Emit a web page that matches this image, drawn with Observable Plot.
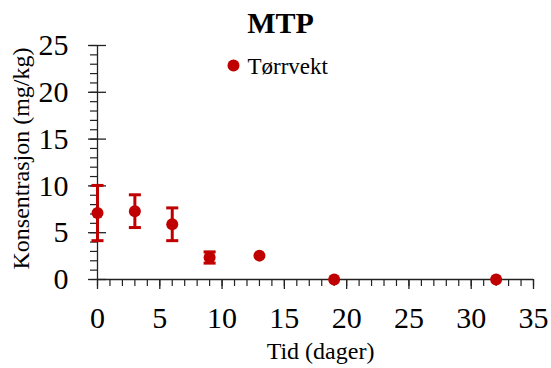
<!DOCTYPE html>
<html>
<head>
<meta charset="utf-8">
<script src="https://cdn.jsdelivr.net/npm/d3@7"></script>
<script src="https://cdn.jsdelivr.net/npm/@observablehq/plot@0.6"></script>
<style>
  html, body { margin: 0; padding: 0; background: #fff; }
  #chart { width: 551px; height: 368px; }
</style>
</head>
<body>
<div id="chart"></div>
<script>
const title = "MTP";
const seriesName = "Tørrvekt";
const xTitle = "Tid (dager)";
const yTitle = "Konsentrasjon (mg/kg)";
const days = [0, 3, 6, 9, 13, 19, 32];
const konsentrasjon = [7.1, 7.3, 5.9, 2.35, 2.55, 0, 0];
const stdavvik = [2.95, 1.75, 1.75, 0.6, 0, 0, 0];
const xMajor = [0, 5, 10, 15, 20, 25, 30, 35];
const xMinor = d3.range(0, 36, 1);
const yMajor = [0, 5, 10, 15, 20, 25];
const yMinor = d3.range(0, 26, 1);

const red = "#C00000";
const axisColor = "#222";
const font = "'Liberation Serif', 'Times New Roman', serif";

const data = days.map((d, i) => ({day: d, value: konsentrasjon[i], sd: stdavvik[i]}));
const withErr = data.filter(d => d.sd > 0);

// horizontal line symbol for error-bar caps
const capSymbol = {
  draw(context, size) {
    const w = Math.sqrt(size) / 2;
    context.moveTo(-w, 0);
    context.lineTo(w, 0);
  }
};

const chart = Plot.plot({
  width: 551,
  height: 368,
  marginLeft: 97,
  marginRight: 18,
  marginTop: 45,
  marginBottom: 89,
  style: {fontFamily: font, color: axisColor, background: "#fff"},
  x: {domain: [0, 35]},
  y: {domain: [0, 25]},
  marks: [
    // axis lines
    Plot.ruleY([0], {stroke: axisColor, strokeWidth: 1.3}),
    Plot.ruleX([0], {stroke: axisColor, strokeWidth: 1.3}),
    // y ticks
    Plot.axisY({ticks: yMinor, tickSize: 7, tickFormat: () => "", label: null, strokeWidth: 1.2}),
    Plot.axisY({ticks: yMajor, tickSize: 9, tickFormat: () => "", label: null, strokeWidth: 1.3}),
    Plot.axisY({ticks: yMajor, tickSize: 9, dx: 9, tickFormat: () => "", label: null, strokeWidth: 1.3}),
    Plot.axisY({ticks: yMajor, tickSize: 0, tickPadding: 29, label: null, fontSize: 30, fill: "#000"}),
    // x ticks
    Plot.axisX({ticks: xMinor, tickSize: 7, tickFormat: () => "", label: null, strokeWidth: 1.2}),
    Plot.axisX({ticks: xMajor, tickSize: 10, tickFormat: () => "", label: null, strokeWidth: 1.3}),
    Plot.axisX({ticks: xMajor, tickSize: 0, tickPadding: 27, label: null, fontSize: 30, fill: "#000"}),
    // error bars
    Plot.ruleX(withErr, {x: "day", y1: d => d.value - d.sd, y2: d => d.value + d.sd, stroke: red, strokeWidth: 3}),
    Plot.dot(withErr, {x: "day", y: d => d.value + d.sd, symbol: capSymbol, r: 6.8, fill: "none", stroke: red, strokeWidth: 3}),
    Plot.dot(withErr, {x: "day", y: d => d.value - d.sd, symbol: capSymbol, r: 6.8, fill: "none", stroke: red, strokeWidth: 3}),
    // points
    Plot.dot(data, {x: "day", y: "value", r: 6, fill: red, stroke: "none"}),
    // title
    Plot.text([title], {frameAnchor: "top", dx: -35, dy: -22, fontSize: 30, fontWeight: "bold", fill: "#000", lineAnchor: "middle"}),
    // legend
    Plot.dot([seriesName], {frameAnchor: "top-left", dx: 136, dy: 20, r: 6, fill: red, stroke: "none"}),
    Plot.text([seriesName], {frameAnchor: "top-left", dx: 150, dy: 21.5, fontSize: 23, textAnchor: "start", lineAnchor: "middle", fill: "#000"}),
    // axis titles
    Plot.text([xTitle], {frameAnchor: "bottom", dx: 5, dy: 71.5, fontSize: 24, textAnchor: "middle", lineAnchor: "middle", fill: "#000"}),
    Plot.text([yTitle], {frameAnchor: "left", dx: -76, dy: -4, rotate: -90, fontSize: 24, textAnchor: "middle", lineAnchor: "middle", fill: "#000"})
  ]
});
document.getElementById("chart").appendChild(chart);
</script>
</body>
</html>
